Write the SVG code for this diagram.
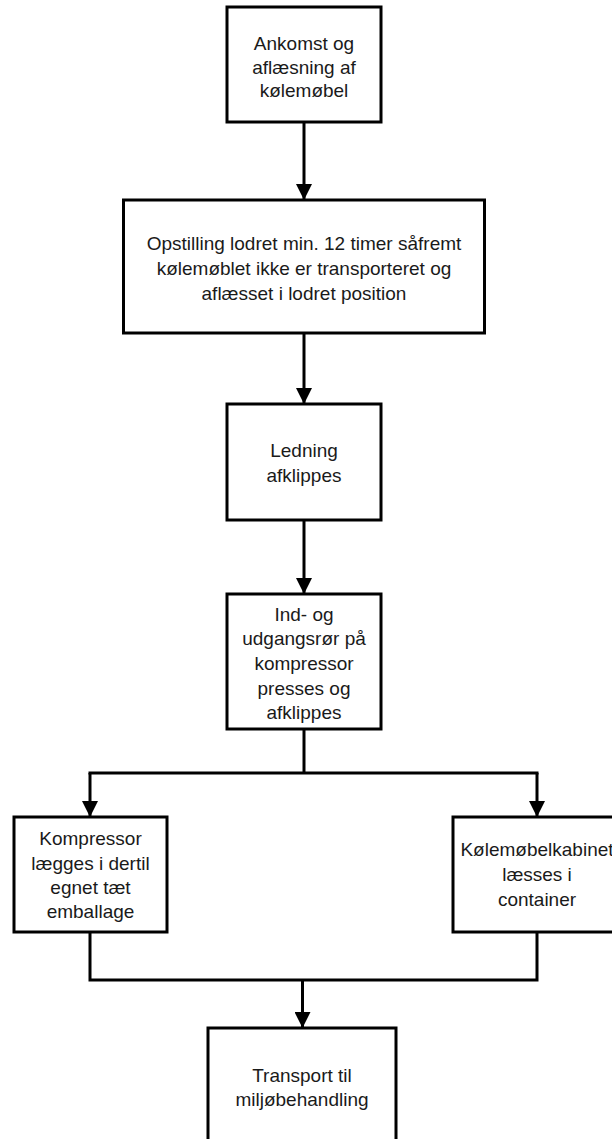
<svg xmlns="http://www.w3.org/2000/svg" width="612" height="1139" viewBox="0 0 612 1139">
<defs>
<marker id="arr" markerUnits="userSpaceOnUse" markerWidth="16" markerHeight="16" refX="16" refY="8" orient="auto">
<path d="M0,0 L16,8 L0,16 z" fill="#000"/>
</marker>
<style>
.box{fill:#fff;stroke:#000;stroke-width:3}
.t{font-family:"Liberation Sans",Arial,sans-serif;font-size:19px;fill:#1a1a1a;text-anchor:middle}
.c{fill:none;stroke:#000;stroke-width:3}
</style>
</defs>
<rect width="612" height="1139" fill="#fff"/>
<g id="connectors">
<path class="c" d="M304,122 V200" marker-end="url(#arr)"/>
<path class="c" d="M304,333 V404" marker-end="url(#arr)"/>
<path class="c" d="M304,520 V594" marker-end="url(#arr)"/>
<path class="c" d="M304,729 V773"/>
<path class="c" d="M88.5,773 H538.5"/>
<path class="c" d="M90,773 V817" marker-end="url(#arr)"/>
<path class="c" d="M537,773 V817" marker-end="url(#arr)"/>
<path class="c" d="M90,932 V980 H537 V932"/>
<path class="c" d="M302.5,980 V1028" marker-end="url(#arr)"/>
</g>
<g id="n1">
<rect class="box" x="227" y="7" width="154" height="115"/>
<text class="t" x="304" y="50">Ankomst og</text>
<text class="t" x="304" y="73.5">aflæsning af</text>
<text class="t" x="304" y="97">kølemøbel</text>
</g>
<g id="n2">
<rect class="box" x="123.5" y="200" width="361" height="133"/>
<text class="t" x="304" y="249.5">Opstilling lodret min. 12 timer såfremt</text>
<text class="t" x="304" y="274.5">kølemøblet ikke er transporteret og</text>
<text class="t" x="304" y="299.5">aflæsset i lodret position</text>
</g>
<g id="n3">
<rect class="box" x="227" y="404" width="154" height="116"/>
<text class="t" x="304" y="457">Ledning</text>
<text class="t" x="304" y="481.5">afklippes</text>
</g>
<g id="n4">
<rect class="box" x="227" y="594" width="154" height="135"/>
<text class="t" x="304" y="620.5">Ind- og</text>
<text class="t" x="304" y="645">udgangsrør på</text>
<text class="t" x="304" y="670">kompressor</text>
<text class="t" x="304" y="694.5">presses og</text>
<text class="t" x="304" y="718.5">afklippes</text>
</g>
<g id="n5">
<rect class="box" x="14" y="817" width="153" height="115"/>
<text class="t" x="90.5" y="845">Kompressor</text>
<text class="t" x="90.5" y="869.5">lægges i dertil</text>
<text class="t" x="90.5" y="893.5">egnet tæt</text>
<text class="t" x="90.5" y="918">emballage</text>
</g>
<g id="n6">
<rect class="box" x="453" y="817" width="168" height="115"/>
<text class="t" x="537" y="856">Kølemøbelkabinet</text>
<text class="t" x="537" y="881">læsses i</text>
<text class="t" x="537" y="906">container</text>
</g>
<g id="n7">
<rect class="box" x="208" y="1028" width="188" height="130"/>
<text class="t" x="302" y="1081.5">Transport til</text>
<text class="t" x="302" y="1105.5">miljøbehandling</text>
</g>
</svg>
